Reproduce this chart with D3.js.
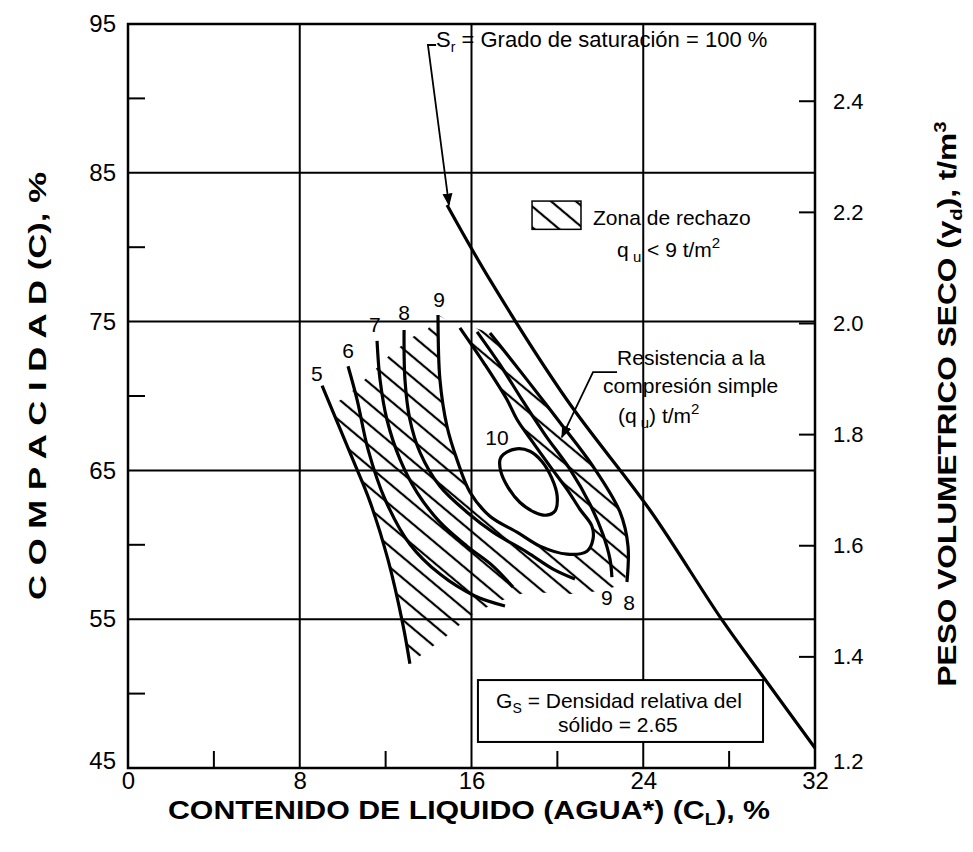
<!DOCTYPE html>
<html>
<head>
<meta charset="utf-8">
<script src="https://cdnjs.cloudflare.com/ajax/libs/d3/7.8.5/d3.min.js"></script>
<style>
body { margin: 0; background: #fff; }
svg { font-family: "Liberation Sans", Arial, sans-serif; }
</style>
</head>
<body>
<div id="chart"></div>
<script>
// ejes
var xTicks = [0, 8, 16, 24, 32];
var xMinor = [4, 12, 20, 28];
var yTicks = [45, 55, 65, 75, 85, 95];
var yMinor = [50, 60, 70, 80, 90];
var rTicks = [1.2, 1.4, 1.6, 1.8, 2.0, 2.2, 2.4];

// curvas de resistencia qu (contenido de agua %, compacidad %)
var curva5 = [[9.04,70.7],[10.48,65.7],[11.27,62.9],[12.11,59.0],[12.81,54.6],[13.13,52.0]];
var curva6 = [[10.25,72.0],[10.67,69.76],[11.18,66.41],[11.97,63.06],[13.13,60.04],[14.53,58.03],[16.16,56.56],[17.56,55.89]];
var curva7 = [[11.6,73.71],[11.74,71.1],[12.06,68.42],[12.67,65.74],[13.46,63.53],[14.53,61.52],[15.79,59.91],[17.0,58.57],[17.93,57.16]];
var curva8 = [[12.86,74.44],[12.9,71.1],[13.13,68.42],[13.6,66.21],[14.53,63.93],[15.79,62.19],[17.0,60.85],[18.58,59.51],[19.8,58.37],[20.82,57.7]];
var curva9 = [[14.44,75.45],[14.53,71.1],[14.86,67.95],[15.32,65.74],[15.93,63.53],[16.86,61.92],[18.12,60.85],[19.19,59.91],[20.45,59.37],[21.38,59.57],[21.66,60.38],[21.61,61.25],[21.05,62.39],[20.45,63.73],[19.66,65.27],[18.86,66.88],[18.12,68.42],[17.65,69.76],[16.63,72.1],[15.46,74.58]];
var curva9b = [[16.26,74.31],[17.33,72.1],[18.35,69.76],[19.42,67.41],[20.59,65.07],[21.52,62.72],[22.12,60.71],[22.45,59.04],[22.54,57.83]];
var curva8b = [[16.86,74.24],[18.58,71.1],[20.12,68.22],[21.66,65.27],[22.92,62.19],[23.29,59.91],[23.24,57.5]];
var curva10 = [[17.48,66.07],[18.1,66.45],[18.72,66.29],[19.27,65.62],[19.73,64.51],[19.99,63.28],[19.89,62.27],[19.5,61.99],[18.96,62.17],[18.26,62.84],[17.71,63.84],[17.36,64.95],[17.33,65.74]];

// zona de rechazo (qu < 9)
var zonaBorde = [[14.44,75.45],[13.93,74.44],[13.27,73.98],[12.2,72.77],[11.27,71.43],[10.25,70.09],[9.5,69.35],[10.48,65.74],[11.27,62.86],[12.11,59.04],[12.81,54.55],[13.13,52.0],[13.74,52.68],[14.86,53.88],[15.93,55.22],[17.19,56.16],[18.58,56.83],[20.68,56.69],[21.98,56.9],[23.15,57.36],[23.29,59.91],[22.92,62.19],[21.66,65.27],[20.12,68.22],[18.58,71.1],[16.86,74.24]];

// saturacion 100 %
var saturacion = [[14.86,82.84],[16.86,77.8],[20.45,69.73],[24.31,62.34],[27.67,54.95],[29.76,50.78],[32.0,46.34]];
var flechaSr = [[14.35,93.59],[13.97,93.59],[14.95,82.84]];
var flechaQu = [[22.78,71.61],[21.66,71.61],[20.21,67.24]];

var etiquetas = [
  {t: "5", w: 8.80, c: 71.0}, {t: "6", w: 10.25, c: 72.55}, {t: "7", w: 11.5, c: 74.3},
  {t: "8", w: 12.86, c: 75.11}, {t: "9", w: 14.49, c: 75.98}, {t: "10", w: 17.19, c: 66.7},
  {t: "9", w: 22.31, c: 55.95}, {t: "8", w: 23.34, c: 55.62}
];

var W = 973, H = 852;
var x = d3.scaleLinear().domain([0, 32]).range([128, 815]);
var y = d3.scaleLinear().domain([45, 95]).range([768, 24]);
var yR = d3.scaleLinear().domain([1.2, 2.539]).range([768, 24]);

var svg = d3.select("#chart").append("svg").attr("width", W).attr("height", H);

var defs = svg.append("defs");
var pat = defs.append("pattern").attr("id", "hatch").attr("patternUnits", "userSpaceOnUse")
  .attr("width", 20).attr("height", 16).attr("patternTransform", "rotate(40)");
pat.append("line").attr("x1", 0).attr("y1", 8).attr("x2", 20).attr("y2", 8)
  .attr("stroke", "#000").attr("stroke-width", 2.2);
defs.append("marker").attr("id", "punta").attr("viewBox", "0 0 10 10").attr("refX", 9).attr("refY", 5)
  .attr("markerWidth", 7).attr("markerHeight", 7).attr("orient", "auto")
  .append("path").attr("d", "M0,1 L10,5 L0,9 Z").attr("fill", "#000");

// rejilla
svg.append("g").selectAll("line").data(yTicks.slice(1, -1)).enter().append("line")
  .attr("x1", x(0)).attr("x2", x(32)).attr("y1", d => y(d)).attr("y2", d => y(d))
  .attr("stroke", "#000").attr("stroke-width", 2);
svg.append("g").selectAll("line").data(xTicks.slice(1, -1)).enter().append("line")
  .attr("y1", y(45)).attr("y2", y(95)).attr("x1", d => x(d)).attr("x2", d => x(d))
  .attr("stroke", "#000").attr("stroke-width", 2);

// marcas menores
svg.append("g").selectAll("line").data(yMinor).enter().append("line")
  .attr("x1", x(0)).attr("x2", x(0) + 17).attr("y1", d => y(d)).attr("y2", d => y(d))
  .attr("stroke", "#000").attr("stroke-width", 2);
svg.append("g").selectAll("line").data(xMinor).enter().append("line")
  .attr("y1", y(45)).attr("y2", y(45) - 17).attr("x1", d => x(d)).attr("x2", d => x(d))
  .attr("stroke", "#000").attr("stroke-width", 2);
svg.append("g").selectAll("line").data(rTicks.slice(1)).enter().append("line")
  .attr("x1", x(32)).attr("x2", x(32) - 16).attr("y1", d => yR(d)).attr("y2", d => yR(d))
  .attr("stroke", "#000").attr("stroke-width", 2);

// zona de rechazo
var lin = d3.line().x(d => x(d[0])).y(d => y(d[1]));
var suave = d3.line().x(d => x(d[0])).y(d => y(d[1])).curve(d3.curveCatmullRom.alpha(0.5));
svg.append("path").attr("d", lin(zonaBorde) + lin(curva9) + "Z")
  .attr("fill", "url(#hatch)").attr("fill-rule", "evenodd").attr("stroke", "none");

// curvas
[curva5, curva6, curva7, curva8, curva9, curva9b, curva8b].forEach(function(c) {
  svg.append("path").attr("d", suave(c)).attr("fill", "none")
    .attr("stroke", "#000").attr("stroke-width", 3.2);
});
svg.append("path").attr("d", d3.line().x(d => x(d[0])).y(d => y(d[1])).curve(d3.curveCatmullRomClosed)(curva10))
  .attr("fill", "none").attr("stroke", "#000").attr("stroke-width", 3.2);
svg.append("path").attr("d", suave(saturacion)).attr("fill", "none")
  .attr("stroke", "#000").attr("stroke-width", 3.2);

// flechas
[flechaSr, flechaQu].forEach(function(f) {
  svg.append("path").attr("d", lin(f)).attr("fill", "none").attr("stroke", "#000")
    .attr("stroke-width", 1.8).attr("marker-end", "url(#punta)");
});

// marco
svg.append("rect").attr("x", x(0)).attr("y", y(95)).attr("width", x(32) - x(0)).attr("height", y(45) - y(95))
  .attr("fill", "none").attr("stroke", "#000").attr("stroke-width", 2.5);

// ejes
var gL = svg.append("g").attr("transform", "translate(" + x(0) + ",0)")
  .call(d3.axisLeft(y).tickValues(yTicks).tickSize(0).tickPadding(12));
gL.select(".domain").remove();
gL.selectAll("text").attr("font-size", 24).attr("font-family", "Liberation Sans, Arial")
  .attr("dy", d => d === 45 ? "0.0em" : "0.32em");
var gR = svg.append("g").attr("transform", "translate(" + x(32) + ",0)")
  .call(d3.axisRight(yR).tickValues(rTicks).tickFormat(d3.format(".1f")).tickSize(0).tickPadding(18));
gR.select(".domain").remove();
gR.selectAll("text").attr("font-size", 22).attr("font-family", "Liberation Sans, Arial")
  .attr("dy", d => d === 1.2 ? "0.0em" : "0.32em");
var gB = svg.append("g").attr("transform", "translate(0," + y(45) + ")")
  .call(d3.axisBottom(x).tickValues(xTicks).tickSize(0).tickPadding(4));
gB.select(".domain").remove();
gB.selectAll("text").attr("font-size", 24).attr("font-family", "Liberation Sans, Arial");

// titulos
svg.append("text").attr("transform", "translate(46,386) rotate(-90)").attr("text-anchor", "middle")
  .attr("font-size", 24).attr("font-weight", "bold").attr("textLength", 428).attr("lengthAdjust", "spacingAndGlyphs")
  .text("C O M P A C I D A D (C), %");
var tR = svg.append("text").attr("transform", "translate(956,404) rotate(-90)").attr("text-anchor", "middle")
  .attr("font-size", 25).attr("font-weight", "bold").attr("textLength", 565).attr("lengthAdjust", "spacingAndGlyphs");
tR.append("tspan").text("PESO VOLUMETRICO SECO (");
tR.append("tspan").text("γ");
tR.append("tspan").attr("font-size", 16).attr("dy", 6).text("d");
tR.append("tspan").attr("dy", -6).text("), t/m");
tR.append("tspan").attr("font-size", 16).attr("dy", -10).text("3");
var tB = svg.append("text").attr("x", 469).attr("y", 819).attr("text-anchor", "middle")
  .attr("font-size", 26).attr("font-weight", "bold").attr("textLength", 602).attr("lengthAdjust", "spacingAndGlyphs");
tB.append("tspan").text("CONTENIDO DE LIQUIDO (AGUA*) (C");
tB.append("tspan").attr("font-size", 16).attr("dy", 6).text("L");
tB.append("tspan").attr("dy", -6).text("), %");

// etiquetas de curvas
svg.append("g").selectAll("text").data(etiquetas).enter().append("text")
  .attr("x", d => x(d.w)).attr("y", d => y(d.c)).attr("text-anchor", "middle")
  .attr("font-size", 21).text(d => d.t);

// anotaciones
var tS = svg.append("text").attr("x", x(14.35)).attr("y", y(93.45)).attr("font-size", 22);
tS.append("tspan").text("S");
tS.append("tspan").attr("font-size", 14).attr("dy", 5).text("r");
tS.append("tspan").attr("dy", -5).text("  =  Grado de saturación  =  100 %");

svg.append("rect").attr("x", x(18.82)).attr("y", y(83.1)).attr("width", x(21.1) - x(18.82)).attr("height", y(81.2) - y(83.1))
  .attr("fill", "url(#hatch)").attr("stroke", "#000").attr("stroke-width", 1.5);
svg.append("text").attr("x", x(21.66)).attr("y", y(81.49)).attr("font-size", 21).text("Zona de rechazo");
var tQ = svg.append("text").attr("x", x(22.78)).attr("y", y(79.34)).attr("font-size", 21);
tQ.append("tspan").text("q");
tQ.append("tspan").attr("font-size", 15).attr("dy", 5).text(" u");
tQ.append("tspan").attr("dy", -5).text(" < 9 t/m");
tQ.append("tspan").attr("font-size", 15).attr("dy", -9).text("2");

svg.append("text").attr("x", x(22.78)).attr("y", y(72.08)).attr("font-size", 21).text("Resistencia a la");
svg.append("text").attr("x", x(22.13)).attr("y", y(70.2)).attr("font-size", 21).text("compresión simple");
var tC = svg.append("text").attr("x", x(22.82)).attr("y", y(68.19)).attr("font-size", 21);
tC.append("tspan").text("(q");
tC.append("tspan").attr("font-size", 15).attr("dy", 5).text(" u");
tC.append("tspan").attr("dy", -5).text(") t/m");
tC.append("tspan").attr("font-size", 15).attr("dy", -9).text("2");

svg.append("rect").attr("x", x(16.3)).attr("y", y(50.91)).attr("width", x(29.58) - x(16.3)).attr("height", y(46.75) - y(50.91))
  .attr("fill", "#fff").attr("stroke", "#000").attr("stroke-width", 2);
var tG = svg.append("text").attr("x", x(22.87)).attr("y", y(49.03)).attr("text-anchor", "middle").attr("font-size", 21);
tG.append("tspan").text("G");
tG.append("tspan").attr("font-size", 14).attr("dy", 5).text("S");
tG.append("tspan").attr("dy", -5).text(" = Densidad relativa del");
svg.append("text").attr("x", x(22.82)).attr("y", y(47.42)).attr("text-anchor", "middle").attr("font-size", 21)
  .text("sólido = 2.65");
</script>
</body>
</html>
